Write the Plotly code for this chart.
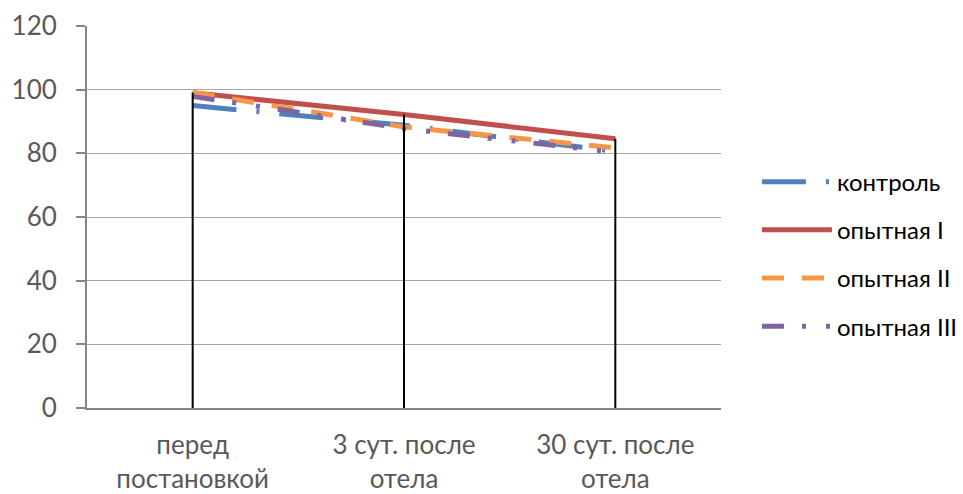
import plotly.graph_objects as go

# Categories along the x axis
categories = ["перед<br>постановкой", "3 сут. после<br>отела", "30 сут. после<br>отела"]

# Series values
kontrol = [95.0, 88.8, 80.6]
opyt_1 = [99.0, 92.2, 84.6]
opyt_2 = [99.1, 88.3, 81.7]
opyt_3 = [97.9, 87.8, 80.3]

series_names = ["контроль", "опытная I", "опытная II", "опытная III"]
y_ticks = [0, 20, 40, 60, 80, 100, 120]

FONT = "Lato"
TEXT = "#595959"
GRID = "#A6A6A6"
AXIS = "#868686"

series = [
    (series_names[0], kontrol, "#4F81BD", "44px,20px,3px,20px"),
    (series_names[1], opyt_1, "#C0504D", "solid"),
    (series_names[2], opyt_2, "#F79646", "22px,18px"),
    (series_names[3], opyt_3, "#8064A2", "22px,18px,4px,20px,4px,18px"),
]

fig = go.Figure()
for i, (name, vals, color, dash) in enumerate(series):
    fig.add_trace(go.Scatter(
        x=categories, y=vals, name=name, mode="lines",
        legendgroup=f"g{i}",
        line=dict(color=color, width=5, dash=dash),
    ))

# High-low drop lines from the top series value at each category down to zero
drop_x, drop_y = [], []
for j, cat in enumerate(categories):
    top = max(s[1][j] for s in series)
    drop_x += [cat, cat, None]
    drop_y += [0, top, None]
fig.add_trace(go.Scatter(
    x=drop_x, y=drop_y, mode="lines", showlegend=False, hoverinfo="skip",
    line=dict(color="#000000", width=2),
))

fig.update_layout(
    width=963, height=494,
    margin=dict(l=87, r=242, t=26, b=86, autoexpand=False),
    paper_bgcolor="white", plot_bgcolor="white",
    font=dict(family=FONT, size=26, color=TEXT),
    showlegend=True,
    legend=dict(
        x=1.0567, xanchor="left", y=0.403, yanchor="middle",
        font=dict(family=FONT, size=24, color="#000000"),
        itemwidth=70, tracegroupgap=14,
        bgcolor="rgba(0,0,0,0)",
    ),
)
fig.update_xaxes(
    type="category", range=[-0.5, 2.5], automargin=False,
    showgrid=False, showline=True, linecolor=AXIS, linewidth=2,
    ticks="", tickfont=dict(family=FONT, size=26, color=TEXT),
    ticklabelstandoff=13,
)
fig.update_yaxes(
    range=[0, 120], tickvals=y_ticks, automargin=False,
    showgrid=True, gridcolor=GRID, gridwidth=1,
    showline=True, linecolor=AXIS, linewidth=2,
    ticks="outside", ticklen=9, tickcolor=AXIS, tickwidth=2,
    tickfont=dict(family=FONT, size=26, color=TEXT),
    ticklabelstandoff=14, zeroline=False,
)

fig.write_html("out.html")
